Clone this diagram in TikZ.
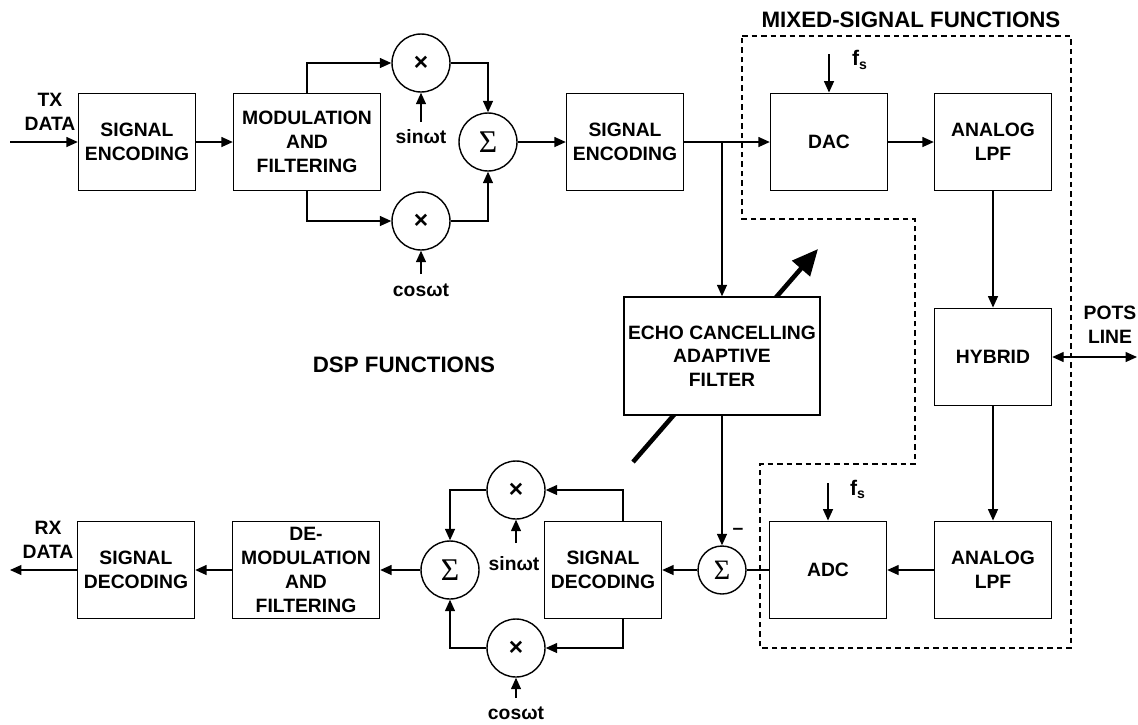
\documentclass[tikz,border=0pt]{standalone}
\usepackage{fontspec}
\setmainfont{Liberation Sans}
\newfontfamily\sigmafont{Liberation Serif}
\usetikzlibrary{arrows.meta}
\tikzset{
  blk/.style={draw, line width=0.8pt, fill=white, minimum width=2.34cm, minimum height=1.95cm,
    inner sep=1pt, align=center, font=\fontsize{11}{13.5}\selectfont\bfseries},
  wideblk/.style={blk, minimum width=2.94cm},
  mixer/.style={circle, draw, line width=0.8pt, fill=white, minimum size=1.16cm, inner sep=0pt,
    font=\fontsize{14}{14}\selectfont\bfseries},
  summer/.style={mixer, font=\fontsize{18}{18}\sigmafont},
  lbl/.style={align=center, font=\fontsize{11}{13.5}\selectfont\bfseries},
  title/.style={font=\fontsize{12.7}{15}\selectfont\bfseries},
  wire/.style={line width=0.8pt},
  arr/.style={wire, -{Triangle[length=2.3mm,width=2mm]}},
}

\begin{document}
\begin{tikzpicture}[x=0.02cm,y=-0.02cm]
  \useasboundingbox (0,0) rectangle (1138,724);

  \draw[line width=0.6pt, dash pattern=on 1.1mm off 0.8mm]
    (742,36) -- (1071,36) -- (1071,648) -- (760,648) -- (760,464)
    -- (915,464) -- (915,219) -- (742,219) -- cycle;
  \node[title] (mixlbl) at (911,20) {MIXED-SIGNAL FUNCTIONS};
  \node[title] (dsplbl) at (404,365) {DSP FUNCTIONS};

  \coordinate (adaptlo) at (633,462);
  \coordinate (adapthi) at (818,249);
  \draw[line width=2.6pt, -{Triangle[length=5.2mm,width=4.6mm]}] (adaptlo) -- (adapthi);

  % transmit path
  \node[blk] (enc1) at (137,142) {SIGNAL\\ENCODING};
  \node[wideblk] (mod) at (307,142) {MODULATION\\AND\\FILTERING};
  \node[mixer] (m1) at (421,63) {×};
  \node[mixer] (m2) at (421,221) {×};
  \node[lbl] (sin1) at (421,137) {sinωt};
  \node[lbl] (cos1) at (421,290) {cosωt};
  \coordinate (sin1in) at (421,122);
  \coordinate (cos1in) at (421,274);
  \node[summer] (s1) at (488,142) {Σ};
  \node[blk] (enc2) at (625,142) {SIGNAL\\ENCODING};
  \node[blk] (dac) at (829,142) {DAC};
  \node[blk] (lpf1) at (993,142) {ANALOG\\LPF};
  \node[lbl, font=\fontsize{12}{14}\selectfont\bfseries] (fsdac) at (860,60) {f\textsubscript{s}};
  \node[lbl] (txlbl) at (50,112) {TX\\DATA};
  \coordinate (txin) at (10,142);
  \coordinate (fsdacin) at (829,54);
  \coordinate (br) at (722,142);

  % line side
  \node[blk] (hyb) at (993,357) {HYBRID};
  \node[lbl] (potslbl) at (1110,325) {POTS\\LINE};
  \coordinate (potsend) at (1137,357);
  \node[blk, minimum width=3.92cm, minimum height=2.36cm] (echo) at (722,356)
    {ECHO CANCELLING\\ADAPTIVE\\FILTER};

  % receive path
  \node[blk] (lpf2) at (993,570) {ANALOG\\LPF};
  \node[blk] (adc) at (828,570) {ADC};
  \node[lbl, font=\fontsize{12}{14}\selectfont\bfseries] (fsadc) at (858,489) {f\textsubscript{s}};
  \coordinate (fsadcin) at (828,483);
  \node[summer, minimum size=0.96cm, font=\fontsize{16}{16}\sigmafont] (s3) at (722,570) {Σ};
  \node[lbl] (minus) at (738,531) {--};
  \node[blk] (dec1) at (603,570) {SIGNAL\\DECODING};
  \node[mixer] (m3) at (516,490) {×};
  \node[mixer] (m4) at (516,648) {×};
  \node[lbl] (sin2) at (514,564) {sinωt};
  \node[lbl] (cos2) at (516,713) {cosωt};
  \coordinate (sin2in) at (516,543);
  \coordinate (cos2in) at (516,698);
  \node[summer] (s2) at (450,570) {Σ};
  \node[wideblk] (demod) at (306,570) {DE-\\MODULATION\\AND\\FILTERING};
  \node[blk] (dec2) at (136,570) {SIGNAL\\DECODING};
  \node[lbl] (rxlbl) at (48,540) {RX\\DATA};
  \coordinate (rxout) at (10,570);

  \draw[arr] (txin) -- (enc1.west);
  \draw[arr] (enc1.east) -- (mod.west);
  \draw[arr] (mod.north) |- (m1.west);
  \draw[arr] (mod.south) |- (m2.west);
  \draw[arr] (sin1in) -- (m1.south);
  \draw[arr] (cos1in) -- (m2.south);
  \draw[arr] (m1.east) -| (s1.north);
  \draw[arr] (m2.east) -| (s1.south);
  \draw[arr] (s1.east) -- (enc2.west);
  \draw[arr] (enc2.east) -- (dac.west);
  \draw[arr] (br) -- (echo.north);
  \draw[arr] (fsdacin) -- (dac.north);
  \draw[arr] (dac.east) -- (lpf1.west);
  \draw[arr] (lpf1.south) -- (hyb.north);
  \draw[wire, {Triangle[length=2.3mm,width=2mm]}-{Triangle[length=2.3mm,width=2mm]}] (hyb.east) -- (potsend);
  \draw[arr] (hyb.south) -- (lpf2.north);
  \draw[arr] (lpf2.west) -- (adc.east);
  \draw[arr] (fsadcin) -- (adc.north);
  \draw[wire] (adc.west) -- (s3.east);
  \draw[arr] (echo.south) -- (s3.north);
  \draw[arr] (s3.west) -- (dec1.east);
  \draw[arr] ([xshift=0.4cm]dec1.north) |- (m3.east);
  \draw[arr] ([xshift=0.4cm]dec1.south) |- (m4.east);
  \draw[arr] (sin2in) -- (m3.south);
  \draw[arr] (cos2in) -- (m4.south);
  \draw[arr] (m3.west) -| (s2.north);
  \draw[arr] (m4.west) -| (s2.south);
  \draw[arr] (s2.west) -- (demod.east);
  \draw[arr] (demod.west) -- (dec2.east);
  \draw[arr] (dec2.west) -- (rxout);
\end{tikzpicture}
\end{document}
